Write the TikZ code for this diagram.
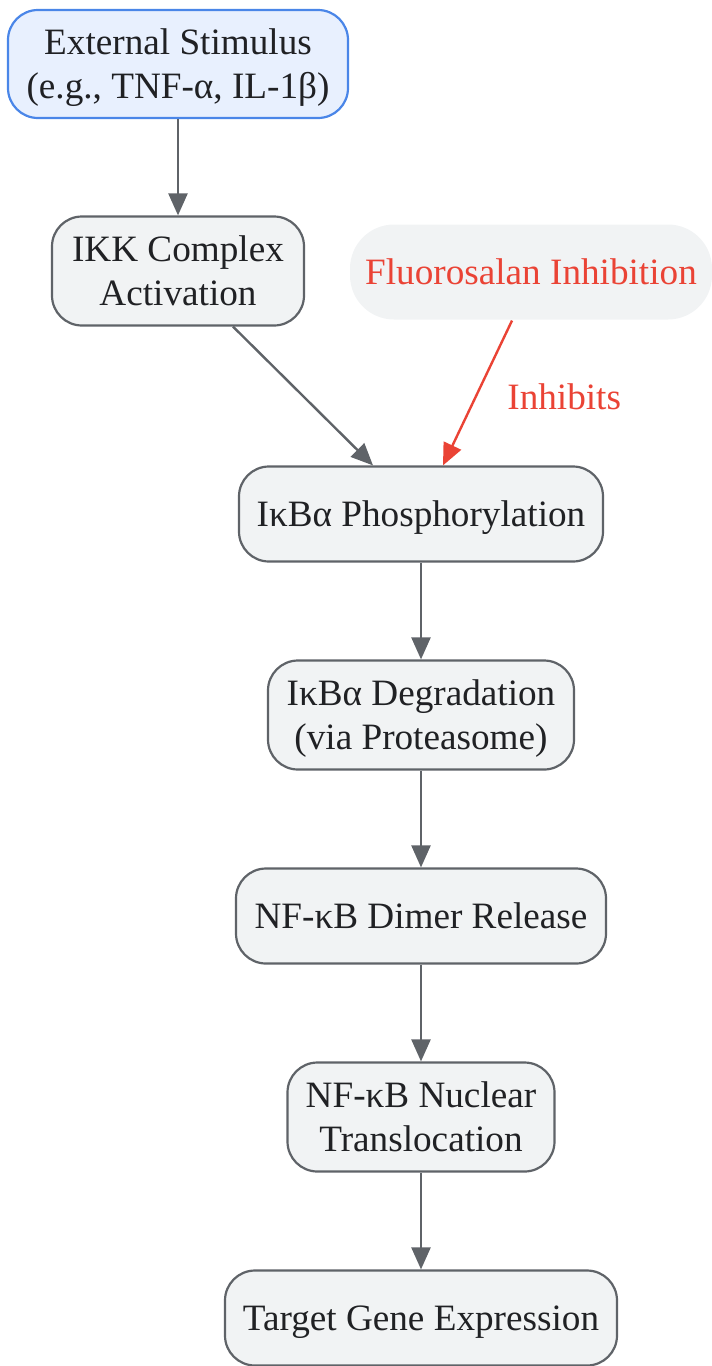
\documentclass[tikz,border=0pt]{standalone}
\usepackage{fontspec}
\setmainfont{Liberation Serif}
\usetikzlibrary{arrows.meta,positioning}
\definecolor{stepfill}{HTML}{F1F3F4}
\definecolor{stepline}{HTML}{5F6368}
\definecolor{stimfill}{HTML}{E8F0FE}
\definecolor{stimline}{HTML}{4A86E8}
\definecolor{inhibred}{HTML}{EA4335}
\definecolor{textdark}{HTML}{202124}
\tikzset{
  pathway box/.style={
    rectangle, rounded corners=15pt,
    fill=stepfill, draw=stepline, line width=1.1pt,
    text=textdark, align=center, text depth=0pt,
    minimum width={#1}, minimum height=47.5pt,
    font=\fontsize{18.6pt}{22pt}\selectfont,
  },
  stimulus box/.style={
    pathway box=#1, fill=stimfill, draw=stimline,
  },
  inhibitor box/.style={
    pathway box=#1, draw=none, rounded corners=22pt, text=inhibred,
  },
  flow/.style={
    draw=stepline, line width=1.2pt,
    -{Triangle[length=11pt,width=9.5pt]},
  },
  inhibit/.style={
    flow, draw=inhibred, -{Triangle[length=11pt,width=9.5pt,fill=inhibred]},
  }
}

\begin{document}
\begin{tikzpicture}[x=0.5pt, y=-0.5pt, node distance=48.4pt]
  \useasboundingbox (0,0) rectangle (712,1366);
  \node [stimulus box=170pt, minimum height=54pt] (stim) at (178,64)
    {External Stimulus\\(e.g., TNF-α, IL-1β)};
  \node [pathway box=126pt, minimum height=54.5pt] (ikk) at (178,271)
    {IKK Complex\\Activation};
  \node [inhibitor box=181pt] (fluor) at (531,272) {Fluorosalan Inhibition};
  \node [pathway box=182pt] (phos) at (421,514) {IκBα Phosphorylation};
  \node [pathway box=153pt, minimum height=54.5pt, below=of phos] (degr)
    {IκBα Degradation\\(via Proteasome)};
  \node [pathway box=185pt, below=of degr] (dimer) {NF-κB Dimer Release};
  \node [pathway box=133.5pt, minimum height=54.5pt, below=of dimer] (nucl)
    {NF-κB Nuclear\\Translocation};
  \node [pathway box=196pt, below=of nucl] (target) {Target Gene Expression};

  \draw [flow] (stim) -- (ikk);
  \draw [flow] ([xshift=27.5pt]ikk.south) -- ([xshift=-24pt]phos.north);
  \draw [inhibit] ([xshift=-9.5pt]fluor.south) -- ([xshift=11pt]phos.north)
    node [midway, right=11pt, yshift=-2pt, text=inhibred,
      font=\fontsize{18.6pt}{22pt}\selectfont] {Inhibits};
  \draw [flow] (phos) -- (degr);
  \draw [flow] (degr) -- (dimer);
  \draw [flow] (dimer) -- (nucl);
  \draw [flow] (nucl) -- (target);
\end{tikzpicture}
\end{document}
